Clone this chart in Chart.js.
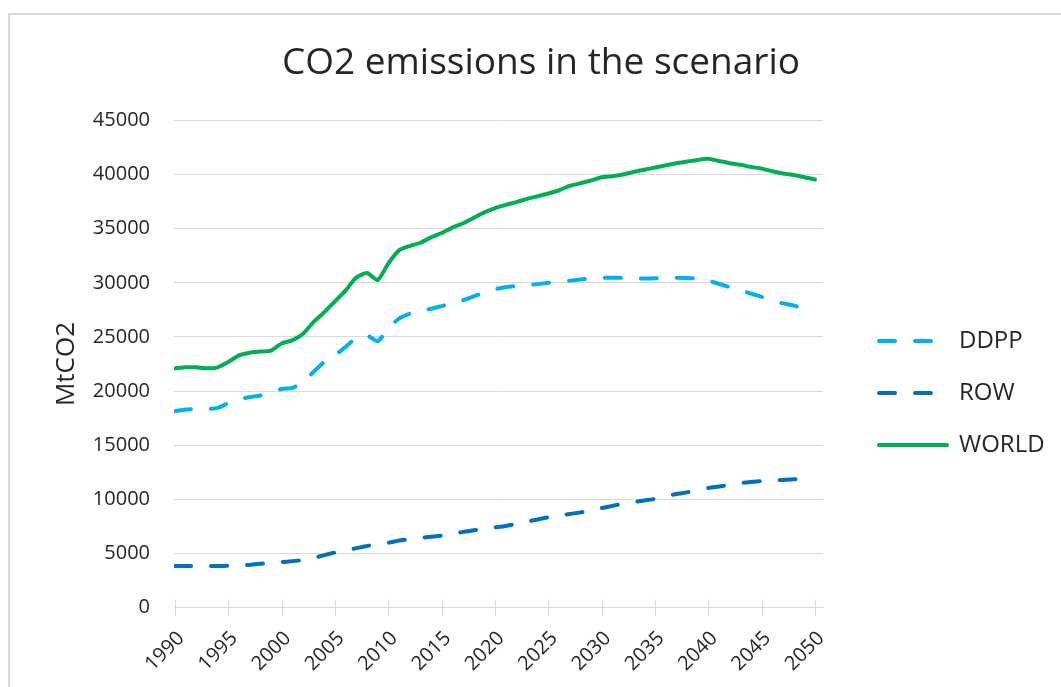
<!DOCTYPE html>
<html>
<head>
<meta charset="utf-8">
<script src="https://cdn.jsdelivr.net/npm/chart.js@4.4.1/dist/chart.umd.min.js"></script>
<style>
  html, body { margin: 0; padding: 0; background: #fff; overflow: hidden; width: 1061px; height: 687px; }
  #wrap { position: absolute; left: 8px; top: 13px; width: 1080px; height: 700px;
          border-left: 2px solid #d9d9d9; border-top: 2px solid #d9d9d9; background: #fff; }
  canvas { position: absolute; left: 0; top: 0; }
</style>
</head>
<body>
<div id="wrap"><canvas id="c" width="1062" height="672"></canvas></div>
<script>
const years = [];
for (let y = 1990; y <= 2050; y++) years.push(y);

const tickYears = [1990, 1995, 2000, 2005, 2010, 2015, 2020, 2025, 2030, 2035, 2040, 2045, 2050];
const yTicks = [0, 5000, 10000, 15000, 20000, 25000, 30000, 35000, 40000, 45000];

const ddpp = [
  18150, 18300, 18350, 18350, 18450, 18900, 19250, 19450, 19600, 19900,
  20200, 20300, 20800, 21800, 22700, 23300, 24100, 24900, 25150, 24600,
  25800, 26700, 27150, 27400, 27600, 27850, 28100, 28400, 28750, 29100,
  29400, 29600, 29700, 29800, 29880, 30000, 30100, 30200, 30300, 30400,
  30450, 30480, 30450, 30400, 30400, 30420, 30450, 30460, 30450, 30400,
  30200, 29900, 29600, 29300, 29000, 28700, 28350, 28100, 27900, 27600,
  27250
];

const row = [
  3850, 3850, 3850, 3850, 3850, 3870, 3900, 3950, 4050, 4150,
  4200, 4300, 4400, 4600, 4850, 5100, 5300, 5500, 5700, 5850,
  6000, 6200, 6340, 6450, 6550, 6650, 6800, 7000, 7150, 7300,
  7420, 7550, 7750, 7950, 8150, 8350, 8500, 8650, 8800, 9000,
  9200, 9400, 9600, 9750, 9900, 10050, 10300, 10500, 10650, 10850,
  11050, 11200, 11350, 11500, 11600, 11700, 11750, 11800, 11850, 11950,
  12200
];

const world = [
  22100, 22200, 22200, 22100, 22200, 22700, 23300, 23550, 23650, 23750,
  24400, 24700, 25300, 26400, 27300, 28300, 29300, 30500, 30900, 30250,
  31800, 33000, 33400, 33700, 34200, 34600, 35100, 35500, 36000, 36500,
  36900, 37200, 37450, 37750, 38000, 38250, 38550, 38950, 39200, 39450,
  39750, 39850, 40000, 40250, 40450, 40650, 40850, 41050, 41200, 41350,
  41450, 41250, 41050, 40900, 40700, 40550, 40300, 40100, 39950, 39750,
  39550
];

const seriesNames = ['DDPP', 'ROW', 'WORLD'];
const seriesColors = ['#00B0F0', '#0070C0', '#00B050'];

const toXY = arr => arr.map((v, i) => ({ x: years[i], y: v }));

const FONT = '"Open Sans", "Noto Sans", sans-serif';
const TXT = '#262626';
const LEGEND_W = 221;

const crossTicks = {
  id: 'crossTicks',
  afterDatasetsDraw(chart) {
    const xs = chart.scales.x;
    const ctx = chart.ctx;
    const yb = chart.chartArea.bottom;
    ctx.save();
    ctx.strokeStyle = '#d9d9d9';
    ctx.lineWidth = 1;
    ctx.beginPath();
    tickYears.forEach(v => {
      const px = Math.round(xs.getPixelForValue(v)) + 0.5;
      ctx.moveTo(px, yb - 8);
      ctx.lineTo(px, yb + 8);
    });
    ctx.stroke();
    ctx.restore();
  }
};

const legendWidthFix = {
  id: 'legendWidthFix',
  beforeLayout(chart) {
    const lg = chart.legend;
    if (lg && !lg.__fixed) {
      const orig = lg.fit;
      lg.fit = function () { orig.call(this); this.width = LEGEND_W; };
      lg.__fixed = true;
    }
  }
};

new Chart(document.getElementById('c'), {
  type: 'line',
  data: {
    datasets: [
      { label: seriesNames[0], data: toXY(ddpp), borderColor: seriesColors[0], backgroundColor: seriesColors[0],
        borderWidth: 4, borderDash: [16, 20], borderCapStyle: 'round', pointRadius: 0, tension: 0.2 },
      { label: seriesNames[1], data: toXY(row), borderColor: seriesColors[1], backgroundColor: seriesColors[1],
        borderWidth: 4, borderDash: [16, 20], borderCapStyle: 'round', pointRadius: 0, tension: 0.2 },
      { label: seriesNames[2], data: toXY(world), borderColor: seriesColors[2], backgroundColor: seriesColors[2],
        borderWidth: 4, borderCapStyle: 'round', pointRadius: 0, tension: 0.2 }
    ]
  },
  options: {
    responsive: false,
    animation: false,
    devicePixelRatio: 1,
    layout: { padding: 0 },
    plugins: {
      title: {
        display: true,
        text: 'CO2 emissions in the scenario',
        color: TXT,
        font: { family: FONT, size: 37, weight: 'normal' },
        padding: { top: 26, bottom: 35 }
      },
      legend: {
        display: true,
        position: 'right',
        align: 'center',
        title: { display: true, text: ' ', font: { size: 10 }, padding: { top: 36, bottom: 36 } },
        labels: {
          color: TXT,
          font: { family: FONT, size: 24 },
          usePointStyle: true,
          pointStyle: 'line',
          pointStyleWidth: 68,
          padding: 28,
          generateLabels(chart) {
            const items = Chart.defaults.plugins.legend.labels.generateLabels(chart);
            items.forEach(it => {
              const ds = chart.data.datasets[it.datasetIndex];
              it.lineDash = ds.borderDash || [];
              it.lineWidth = ds.borderWidth;
              it.strokeStyle = ds.borderColor;
              it.fillStyle = ds.borderColor;
              it.lineCap = 'round';
              it.pointStyle = 'line';
            });
            return items;
          }
        }
      },
      tooltip: { enabled: false }
    },
    scales: {
      x: {
        type: 'linear',
        min: 1989.9,
        max: 2050.75,
        afterBuildTicks: s => { s.ticks = tickYears.map(v => ({ value: v })); },
        grid: { display: false },
        border: { display: true, color: '#d9d9d9', width: 1 },
        ticks: {
          color: TXT,
          font: { family: FONT, size: 20 },
          minRotation: 45,
          maxRotation: 45,
          padding: 11,
          labelOffset: 6,
          autoSkip: false,
          callback: v => String(v)
        }
      },
      y: {
        min: 0,
        max: 45000,
        afterBuildTicks: s => { s.ticks = yTicks.map(v => ({ value: v })); },
        afterFit: s => { s.width = 164; },
        ticks: { color: TXT, font: { family: FONT, size: 20 }, padding: 24, callback: v => String(v) },
        grid: { color: '#d9d9d9', lineWidth: 1, drawTicks: false },
        border: { display: false },
        title: { display: true, text: 'MtCO2', color: TXT, font: { family: FONT, size: 26 },
                 padding: { top: 41, bottom: 0 } }
      },
      gapInner: {
        position: 'right',
        display: true,
        weight: 0,
        grid: { display: false },
        border: { display: false },
        ticks: { display: false },
        afterFit: s => { s.width = 28; }
      }
    }
  },
  plugins: [crossTicks, legendWidthFix]
});
</script>
</body>
</html>
